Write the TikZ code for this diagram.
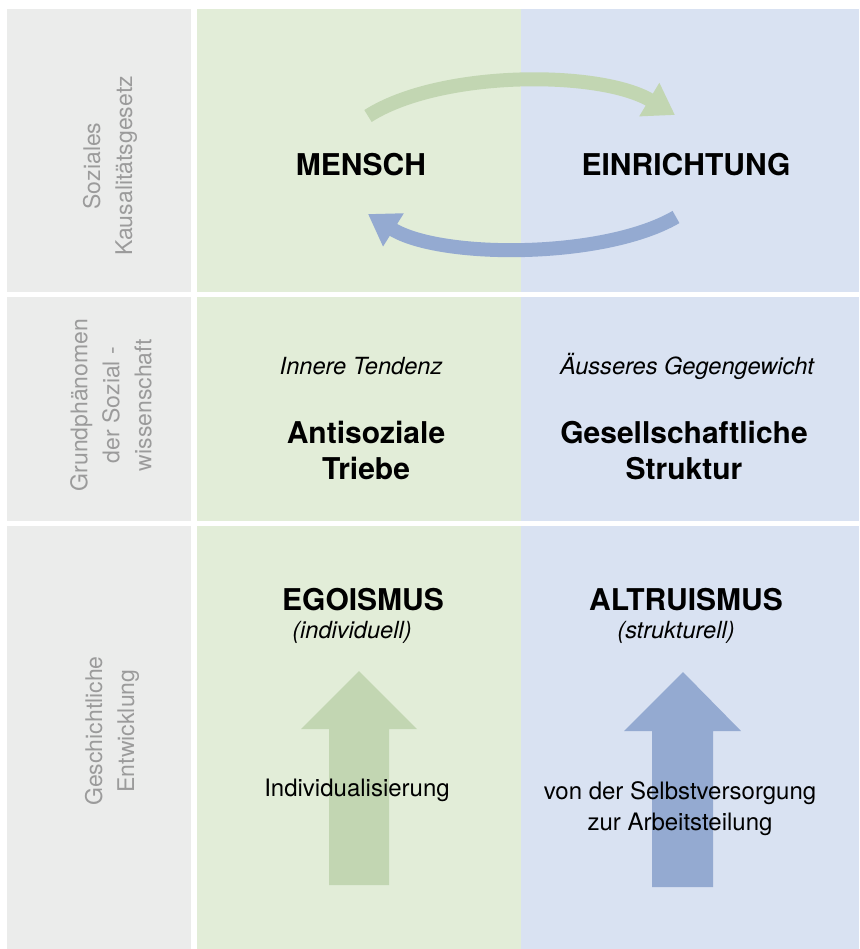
\documentclass[tikz,border=0pt]{standalone}
\usepackage{fontspec}
\setmainfont{TeX Gyre Heros}
\usetikzlibrary{arrows.meta}
\definecolor{kgray}{HTML}{EBECEB}
\definecolor{klabel}{HTML}{9B9B9B}
\definecolor{kgreen}{HTML}{E2EDD8}
\definecolor{kblue}{HTML}{D9E2F2}
\definecolor{agreen}{HTML}{C2D6B2}
\definecolor{ablue}{HTML}{94AAD1}

\begin{document}
\begin{tikzpicture}[x=0.5pt, y=-0.5pt,
  head/.style={font=\fontsize{15}{18}\selectfont\bfseries, align=center},
  sub/.style={font=\fontsize{11.8}{15}\selectfont\itshape},
  plain/.style={font=\fontsize{12}{15.5}\selectfont, align=center},
  side/.style={font=\fontsize{11.5}{16}\selectfont, text=klabel, rotate=90, align=center},
  cycle/.style={line width=7pt, -{Triangle[length=15pt, width=18.5pt]}}
]
  \useasboundingbox (0,0) rectangle (859,949);

  % Backgrounds
  \foreach \ya/\yb in {9/292, 297/521, 526/949} {
    \fill[kgray] (7,\ya) rectangle (191,\yb);
    \fill[kgreen] (197,\ya) rectangle (521,\yb);
    \fill[kblue] (521,\ya) rectangle (859,\yb);
  }

  % Row labels
  \node[side] (kausal) at (110,166) {Soziales\\Kausalitätsgesetz};
  \node[side] (grund) at (111,405) {Grundphänomen\\der Sozial -\\wissenschaft};
  \node[side] (geschichte) at (112,731) {Geschichtliche\\Entwicklung};

  % Social causality
  \node[head] (mensch) at (361,165) {MENSCH};
  \node[head] (einrichtung) at (686,165) {EINRICHTUNG};
  \coordinate (gtail) at (368,116);
  \coordinate (gtip) at (675,115);
  \coordinate (btail) at (676,217);
  \coordinate (btip) at (368,214);
  \draw[cycle, agreen] (gtail) .. controls (440,70) and (600,70) .. (gtip);
  \draw[cycle, ablue] (btail) .. controls (604,259) and (440,259) .. (btip);

  % Basic phenomenon
  \node[sub] (tendenz) at (361,366) {Innere Tendenz};
  \node[sub] (gegengewicht) at (687,366) {Äusseres Gegengewicht};
  \node[head] (triebe) at (366,450) {Antisoziale\\Triebe};
  \node[head] (struktur) at (684,450) {Gesellschaftliche\\Struktur};

  % Historical development
  \node[head] (egoismus) at (363,600) {EGOISMUS};
  \node[sub] (individuell) at (352,632) {(individuell)};
  \node[head] (altruismus) at (686,600) {ALTRUISMUS};
  \node[sub] (strukturell) at (676,632) {(strukturell)};

  \fill[agreen] (359,671) -- (417,729) -- (389,729) -- (389,885) -- (329,885) -- (329,729) -- (301,729) -- cycle;
  \fill[ablue] (683,672) -- (741,731) -- (713,731) -- (713,887) -- (652,887) -- (652,731) -- (624,731) -- cycle;
  \node[plain] (individualisierung) at (357,790) {Individualisierung};
  \node[plain] (arbeitsteilung) at (680,809) {von der Selbstversorgung\\zur Arbeitsteilung};

\end{tikzpicture}
\end{document}
